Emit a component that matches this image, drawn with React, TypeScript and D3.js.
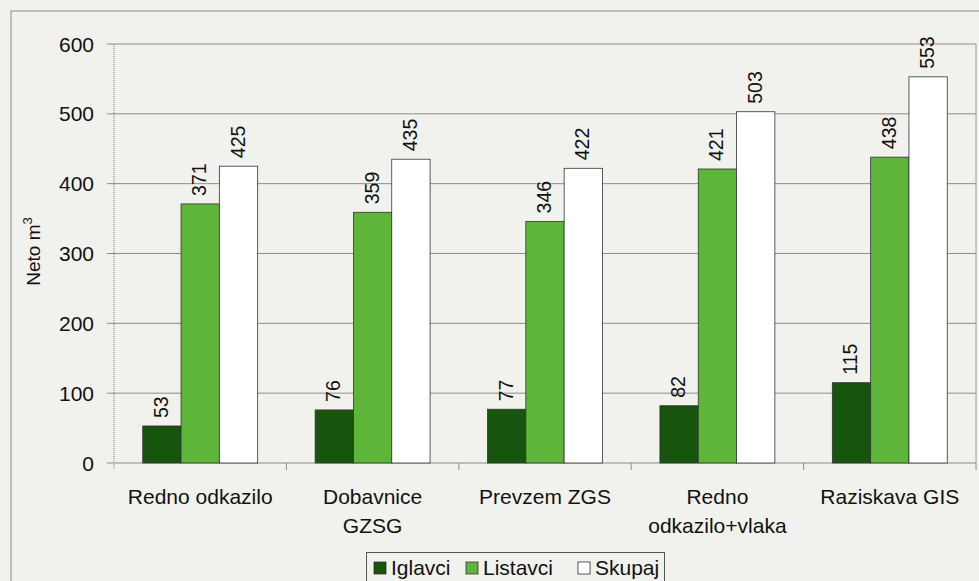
import React from 'react';
import { scaleBand, scaleLinear } from 'd3';

const kategorije = [
  ['Redno odkazilo'],
  ['Dobavnice', 'GZSG'],
  ['Prevzem ZGS'],
  ['Redno', 'odkazilo+vlaka'],
  ['Raziskava GIS'],
];
const iglavci = [53, 76, 77, 82, 115];
const listavci = [371, 359, 346, 421, 438];
const skupaj = [425, 435, 422, 503, 553];
const serije = ['Iglavci', 'Listavci', 'Skupaj'];
const yTicks = [0, 100, 200, 300, 400, 500, 600];

const barve = ['#17550f', '#5db53a', '#ffffff'];
const font = '"Liberation Sans", Arial, sans-serif';

export default function App() {
  const W = 979, H = 581;
  const margin = { top: 44, left: 114, right: 3, bottom: 118 };
  const innerW = W - margin.left - margin.right;
  const innerH = H - margin.top - margin.bottom;

  const x = scaleBand<number>().domain(kategorije.map((_, i) => i)).range([0, innerW]);
  const y = scaleLinear().domain([0, 600]).range([innerH, 0]);
  const bw = x.bandwidth() / 4.5;
  const podatki = [iglavci, listavci, skupaj];

  return (
    <svg width={W} height={H} style={{ position: 'absolute', left: 0, top: 0, background: '#f1f1ed' }}>
      <rect x={11} y={11} width={W + 10} height={H} fill="none" stroke="#8a8a8a" strokeWidth={1} />
      <g transform={`translate(${margin.left},${margin.top})`} fontFamily={font}>
        {yTicks.map((t) => (
          <g key={t}>
            <line x1={-7} x2={innerW} y1={y(t)} y2={y(t)} stroke="#8c8c8c" strokeWidth={1} />
            <text x={-20} y={y(t)} dy="0.36em" textAnchor="end" fontSize={21} fill="#111">{t}</text>
          </g>
        ))}
        <line x1={0} x2={0} y1={0} y2={innerH + 7} stroke="#7a7a7a" strokeDasharray="1,1" />
        <line x1={innerW} x2={innerW} y1={0} y2={innerH} stroke="#9a9a9a" />
        {kategorije.map((_, i) => (
          <line key={i} x1={(x(i) as number) + x.bandwidth()} x2={(x(i) as number) + x.bandwidth()} y1={innerH} y2={innerH + 7} stroke="#8c8c8c" />
        ))}
        {podatki.map((serija, s) =>
          serija.map((v, i) => {
            const bx = (x(i) as number) + 0.75 * bw + s * bw;
            return (
              <g key={`${s}-${i}`}>
                <rect x={bx} y={y(v)} width={bw} height={innerH - y(v)} fill={barve[s]} stroke="#333" strokeWidth={0.8} />
                <text transform={`translate(${bx + bw / 2 + 6},${y(v) - 8}) rotate(-90)`} fontSize={19.5} fill="#111">{v}</text>
              </g>
            );
          })
        )}
        {kategorije.map((lines, i) => (
          <text key={i} x={(x(i) as number) + x.bandwidth() / 2} y={innerH + 41} textAnchor="middle" fontSize={21} fill="#111">
            {lines.map((l, j) => (
              <tspan key={j} x={(x(i) as number) + x.bandwidth() / 2} dy={j === 0 ? 0 : 29}>{l}</tspan>
            ))}
          </text>
        ))}
        <text transform={`translate(${-74},${innerH / 2 - 2}) rotate(-90)`} textAnchor="middle" fontSize={19} fill="#111">
          Neto m<tspan dy={-8} fontSize={13}>3</tspan>
        </text>
      </g>
      <g fontFamily={font}>
        <rect x={366.5} y={552.5} width={298} height={40} fill="#f1f1ed" stroke="#555" />
        {serije.map((s, i) => {
          const lx = [374, 466, 578][i];
          return (
            <g key={s}>
              <rect x={lx} y={562} width={12} height={12} fill={barve[i]} stroke="#333" strokeWidth={0.8} />
              <text x={lx + 17} y={575} fontSize={21} fill="#111">{s}</text>
            </g>
          );
        })}
      </g>
    </svg>
  );
}
